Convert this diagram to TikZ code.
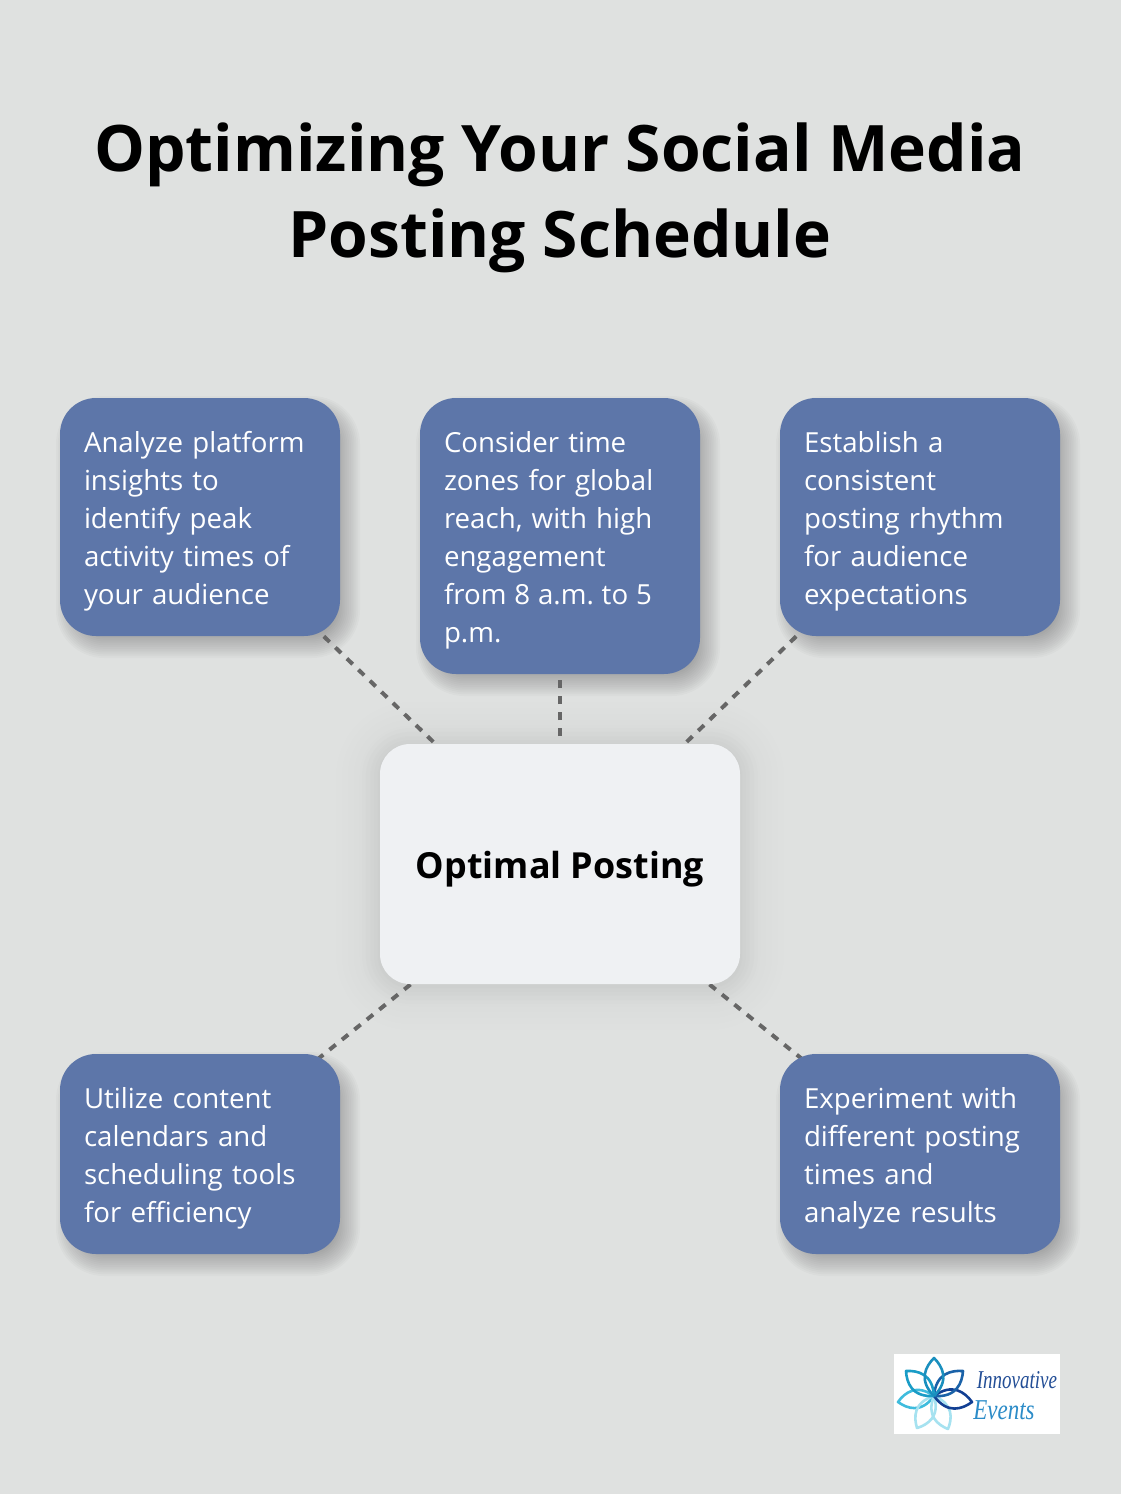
\documentclass[tikz,border=0pt]{standalone}
\usepackage{fontspec}
\setmainfont{Open Sans}
\newfontfamily\logofont{Liberation Serif}
\usetikzlibrary{calc}
\definecolor{bgc}{HTML}{DFE1E0}
\definecolor{boxblue}{HTML}{5D76A9}
\definecolor{boxlight}{HTML}{EFF1F3}
\definecolor{linec}{HTML}{666666}
\definecolor{pa}{HTML}{3FBCDD}
\definecolor{pb}{HTML}{A6E2F0}
\definecolor{pc}{HTML}{A6E2F0}
\definecolor{pd}{HTML}{123F93}
\definecolor{pe}{HTML}{1A62A8}
\definecolor{pf}{HTML}{1A9CC6}
\definecolor{pg}{HTML}{1A8FBE}
\definecolor{la}{HTML}{234E96}
\definecolor{lb}{HTML}{2C8CC8}
\pgfdeclarelayer{shadowlayer}
\pgfdeclarelayer{linelayer}
\pgfsetlayers{shadowlayer,linelayer,main}
\tikzset{
  bluebox/.style={fill=boxblue,text=white,rounded corners=36pt,minimum width=280pt,inner sep=0pt,outer sep=0pt,text width=232pt,align=left,font=\fontsize{27.65}{38}\selectfont\frenchspacing},
  centerbox/.style={fill=boxlight,text=black,rounded corners=30pt,minimum width=360pt,minimum height=240pt,inner sep=0pt,outer sep=0pt,align=center,font=\fontsize{35.9}{44}\selectfont\bfseries},
  titlebox/.style={text=black,inner sep=0pt,align=center,font=\fontsize{64.1}{86}\selectfont\bfseries},
  conn/.style={draw=linec,line width=4pt,dash pattern=on 8pt off 8pt},
  petal/.style={line width=2.6pt,line join=round},
  logotext/.style={inner sep=0pt,transform shape,font=\logofont\itshape}
}
\newcommand{\bluetext}[1]{\raisebox{-4pt}[\height][\depth]{\begin{tabular}{@{}l@{}}#1\end{tabular}}}
% node, dx, dy, blur, radius, alpha, steps
\newcommand{\softshade}[7]{%
  \foreach \i in {1,...,#7}{%
    \pgfmathsetmacro\ee{#4*(1-2*(\i-1)/(#7-1))}%
    \pgfmathsetmacro\rr{max(#5+\ee,2)}%
    \fill[black,opacity=#6,rounded corners=\rr pt]
      ($(#1.south west)+(#2-\ee,#3+\ee)$) rectangle ($(#1.north east)+(#2+\ee,#3-\ee)$);
  }}
% tip x, tip y, colour: leaf from the flower's centre
\newcommand{\leaf}[3]{%
  \pgfmathsetmacro\ldx{#1-934}\pgfmathsetmacro\ldy{#2-1396}%
  \draw[petal,draw=#3] (934,1396)
    .. controls ({934+.42*\ldx-.42*\ldy},{1396+.42*\ldy+.42*\ldx}) and ({934+.78*\ldx-.22*\ldy},{1396+.78*\ldy+.22*\ldx}) .. (#1,#2)
    .. controls ({934+.78*\ldx+.22*\ldy},{1396+.78*\ldy-.22*\ldx}) and ({934+.42*\ldx+.42*\ldy},{1396+.42*\ldy-.42*\ldx}) .. (934,1396);}
\begin{document}
\begin{tikzpicture}[x=1pt,y=-1pt]
\useasboundingbox (0,0) rectangle (1120,1494);

\node[titlebox] (title) at (560,198) {Optimizing Your Social Media\\Posting Schedule};

\node[bluebox,minimum height=238pt] (a) at (200,517) {\bluetext{Analyze platform\\insights to\\identify peak\\activity times of\\your audience}};
\node[bluebox,minimum height=276pt] (b) at (560,536) {\bluetext{Consider time\\zones for global\\reach, with high\\engagement\\{\spaceskip=0.285em from 8 a.m. to 5}\\p.m.}};
\node[bluebox,minimum height=238pt] (d) at (920,517) {\bluetext{Establish a\\consistent\\posting rhythm\\for audience\\expectations}};
\node[centerbox] (c) at (560,864) {\raisebox{-5pt}[\height][\depth]{Optimal Posting}};
\node[bluebox,minimum height=200pt] (e) at (200,1154) {\bluetext{Utilize content\\calendars and\\scheduling tools\\for efficiency}};
\node[bluebox,minimum height=200pt] (f) at (920,1154) {\bluetext{Experiment with\\different posting\\times and\\analyze results}};

\begin{pgfonlayer}{shadowlayer}
  \fill[bgc] (-3,-3) rectangle (1123,1497);
  \foreach \n in {a,b,d,e,f}{\softshade{\n}{8}{10}{12}{36}{0.02}{14}}
  \softshade{c}{0}{2}{44}{30}{0.0045}{16}
  \softshade{c}{0}{2}{18}{30}{0.006}{10}
\end{pgfonlayer}

\begin{pgfonlayer}{linelayer}
  \foreach \n in {a,b,d,e,f}{\draw[conn] (c.center) -- (\n.center);}
\end{pgfonlayer}

% logo
\node[fill=white,minimum width=166pt,minimum height=80pt,inner sep=0pt] (logo) at (977,1394) {};
\leaf{898}{1402}{pa}
\leaf{917}{1428}{pb}
\leaf{948}{1429}{pc}
\leaf{972}{1402}{pd}
\leaf{963}{1371}{pe}
\leaf{906}{1371}{pf}
\leaf{934}{1358}{pg}
\node[logotext,text=la,yscale=1.35,font=\logofont\itshape\fontsize{19}{19}\selectfont] (logoa) at (1017,1380) {Innovative};
\node[logotext,text=lb,yscale=1.25,font=\logofont\itshape\fontsize{23}{23}\selectfont] (logob) at (1004,1410) {Events};
\end{tikzpicture}
\end{document}
